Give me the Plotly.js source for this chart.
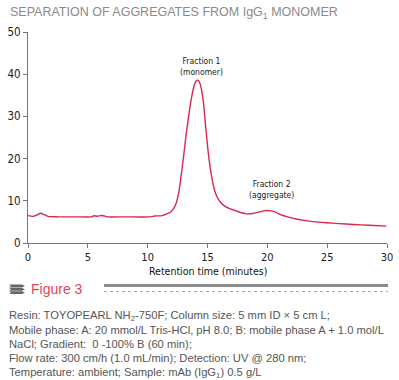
<!DOCTYPE html>
<html>
<head>
<meta charset="utf-8">
<script src="https://cdn.plot.ly/plotly-3.0.1.min.js"></script>
<style>
html,body{margin:0;padding:0;background:#fff;}
#chart{width:399px;height:380px;}
</style>
</head>
<body>
<div id="chart"></div>
<script>
// Data
const timeMin = [0, 0.4, 0.8, 1.06, 1.3, 1.67, 2.5, 4, 5.3, 5.5, 5.8, 6.1, 6.4, 6.6, 8, 10.2, 10.6, 11.2, 11.6, 11.9, 12.2, 12.4, 12.6, 12.8, 13.0, 13.25, 13.5, 13.67, 13.9, 14.05, 14.18, 14.3, 14.45, 14.65, 14.85, 15.06, 15.3, 15.6, 15.9, 16.2, 16.5, 16.9, 17.4, 17.9, 18.3, 18.8, 19.3, 19.7, 19.95, 20.3, 20.7, 21.05, 21.7, 22.4, 23.2, 24.0, 24.95, 26, 27.2, 28.5, 29.95];
const signal = [6.5, 6.3, 6.7, 7.05, 6.8, 6.3, 6.2, 6.2, 6.2, 6.45, 6.35, 6.5, 6.4, 6.2, 6.2, 6.2, 6.4, 6.5, 6.9, 7.3, 8.3, 9.6, 12, 16, 20.5, 26.5, 31.5, 34.5, 37.5, 38.4, 38.6, 38.3, 37, 33.5, 27.5, 21.5, 16.5, 12.4, 10.4, 9.3, 8.6, 8.1, 7.6, 7.1, 6.9, 7.0, 7.3, 7.6, 7.7, 7.6, 7.3, 6.8, 6.2, 5.7, 5.3, 5.0, 4.8, 4.6, 4.4, 4.2, 4.0];
const xTicks = [0, 5, 10, 15, 20, 25, 30];
const yTicks = [0, 10, 20, 30, 40, 50];
const chartTitle = 'SEPARATION OF AGGREGATES FROM IgG<sub>1</sub> MONOMER';
const xTitle = 'Retention time (minutes)';
const peakLabels = ['Fraction 1<br>(monomer)', 'Fraction 2<br>(aggregate)'];
const figureLabel = 'Figure 3';
const captionLines = [
  'Resin: TOYOPEARL NH<sub>2</sub>-750F; Column size: 5 mm ID × 5 cm L;',
  'Mobile phase: A: 20 mmol/L Tris-HCl, pH 8.0; B: mobile phase A + 1.0 mol/L',
  'NaCl; Gradient:  0 -100% B (60 min);',
  'Flow rate: 300 cm/h (1.0 mL/min); Detection: UV @ 280 nm;',
  'Temperature: ambient; Sample: mAb (IgG<sub>1</sub>) 0.5 g/L'
];

// pixel -> paper helpers (plot area: x 28..387, y 32..242.6)
const L = 28, R = 387, T = 32, B = 242.6;
const px = v => (v - L) / (R - L);
const py = v => (B - v) / (B - T);

const narrow = 'Liberation Sans Narrow, DejaVu Sans Condensed, Arial Narrow, sans-serif';
const sans = 'Liberation Sans, Arial, sans-serif';

const annotations = [
  {text: chartTitle, xref: 'paper', yref: 'paper', x: px(8), y: py(13), xanchor: 'left', yanchor: 'middle', showarrow: false,
   font: {family: sans, size: 12.5, color: '#8a8a8a'}},
  {text: peakLabels[0], xref: 'x', yref: 'paper', x: 14.5, y: py(66), xanchor: 'center', yanchor: 'middle', showarrow: false,
   font: {family: narrow, size: 8.5, color: '#222'}},
  {text: peakLabels[1], xref: 'x', yref: 'paper', x: 20.35, y: py(189.5), xanchor: 'center', yanchor: 'middle', showarrow: false,
   font: {family: narrow, size: 8.5, color: '#222'}},
  {text: xTitle, xref: 'paper', yref: 'paper', x: px(208), y: py(270.5), xanchor: 'center', yanchor: 'middle', showarrow: false,
   font: {family: narrow, size: 10.5, color: '#111'}},
  {text: figureLabel, xref: 'paper', yref: 'paper', x: px(29), y: py(288.5), xanchor: 'left', yanchor: 'middle', showarrow: false,
   font: {family: sans, size: 14, color: '#e0455a'}}
];
const captionY = [315, 329, 343, 357.5, 372];
captionLines.forEach((t, i) => annotations.push({
  text: t, xref: 'paper', yref: 'paper', x: px(7), y: py(captionY[i]), xanchor: 'left', yanchor: 'middle', showarrow: false,
  font: {family: sans, size: 11.2, color: '#555'}
}));

function arrowPath(yc) {
  // one chevron bar of the icon
  const x0 = px(9), x1 = px(22), x2 = px(25);
  const h = 1.4;
  return `M ${x0} ${py(yc - h)} L ${x1} ${py(yc - h)} L ${x2} ${py(yc)} L ${x1} ${py(yc + h)} L ${x0} ${py(yc + h)} L ${px(11)} ${py(yc)} Z`;
}
const shapes = [
  {type: 'line', xref: 'paper', yref: 'paper', x0: px(104), x1: px(388), y0: py(285), y1: py(285), line: {color: '#8c8c8c', width: 3}},
  {type: 'line', xref: 'paper', yref: 'paper', x0: px(104), x1: px(388), y0: py(291), y1: py(291), line: {color: '#aaaaaa', width: 1, dash: 'dot'}},
  {type: 'path', xref: 'paper', yref: 'paper', path: arrowPath(285.5), fillcolor: '#666', line: {width: 0}},
  {type: 'path', xref: 'paper', yref: 'paper', path: arrowPath(288.8), fillcolor: '#666', line: {width: 0}},
  {type: 'path', xref: 'paper', yref: 'paper', path: arrowPath(292.1), fillcolor: '#666', line: {width: 0}}
];

const trace = {
  x: timeMin, y: signal, type: 'scatter', mode: 'lines',
  line: {color: '#d8284e', width: 1.4, shape: 'spline', smoothing: 0.6},
  hoverinfo: 'x+y'
};

const layout = {
  width: 399, height: 380,
  margin: {l: L, r: 399 - R, t: T, b: 380 - B},
  paper_bgcolor: '#fff', plot_bgcolor: '#fff',
  showlegend: false,
  xaxis: {range: [0, 30], tickvals: xTicks, ticktext: xTicks.map(String), showgrid: false, zeroline: false,
    showline: true, linecolor: '#777', linewidth: 1, ticks: 'outside', ticklen: 4, tickcolor: '#777',
    tickfont: {family: narrow, size: 11, color: '#222'}, fixedrange: true},
  yaxis: {range: [0, 50], tickvals: yTicks, ticktext: yTicks.map(String), showgrid: false, zeroline: false,
    showline: true, linecolor: '#777', linewidth: 1, ticks: 'outside', ticklen: 4, tickcolor: '#777',
    tickfont: {family: narrow, size: 11.5, color: '#222'}, fixedrange: true},
  annotations: annotations,
  shapes: shapes
};

Plotly.newPlot('chart', [trace], layout, {displayModeBar: false, staticPlot: true});
</script>
</body>
</html>
